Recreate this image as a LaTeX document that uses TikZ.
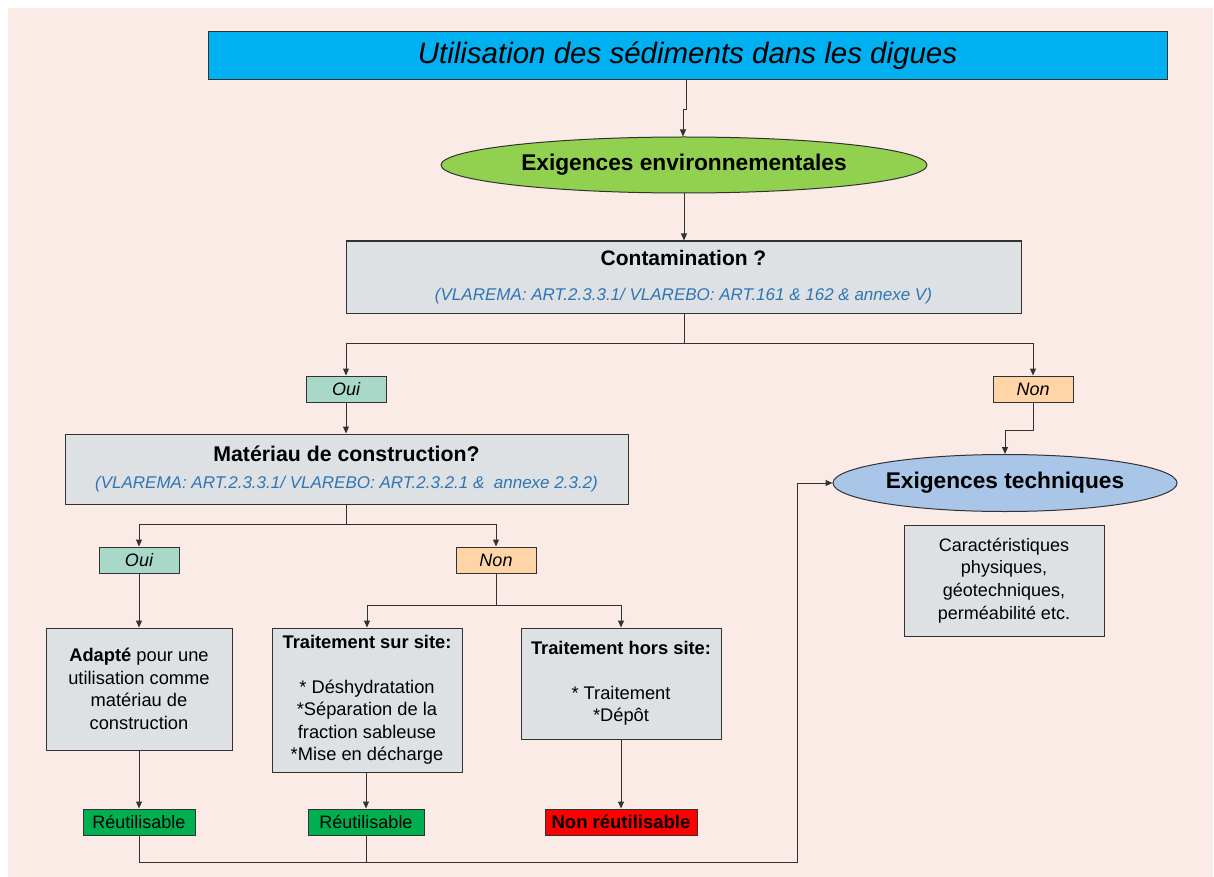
\documentclass[tikz,border=0pt]{standalone}
\usepackage{fontspec}
\setmainfont{Liberation Sans}
\usetikzlibrary{arrows.meta,shapes.geometric}
\definecolor{bgpink}{RGB}{251,235,231}
\definecolor{titleblue}{RGB}{0,176,240}
\definecolor{envgreen}{RGB}{146,208,80}
\definecolor{boxgray}{RGB}{222,225,227}
\definecolor{txtblue}{RGB}{46,117,182}
\definecolor{ouicol}{RGB}{168,216,200}
\definecolor{noncol}{RGB}{255,213,168}
\definecolor{reugreen}{RGB}{0,176,80}
\definecolor{techblue}{RGB}{169,198,232}
\definecolor{edge}{RGB}{50,50,50}
\tikzset{
  box/.style={draw=edge,line width=1pt,fill=boxgray,align=center,inner sep=0pt,font=\fontsize{18.3}{22.5}\selectfont},
  tag/.style={draw=edge,line width=1pt,minimum width=80pt,minimum height=26pt,inner sep=0pt,font=\fontsize{18}{22}\selectfont\itshape},
  res/.style={draw=edge,line width=1pt,minimum height=26pt,inner sep=0pt,font=\fontsize{18}{22}\selectfont},
  oval/.style={ellipse,draw=edge,line width=1pt,inner sep=0pt,font=\fontsize{22.7}{26}\selectfont\bfseries},
  conn/.style={draw=edge,line width=1pt,-{Triangle[length=7pt,width=6pt]}},
  plain/.style={draw=edge,line width=1pt},
}
\begin{document}
\begin{tikzpicture}[x=1pt,y=-1pt]
\useasboundingbox (0,0) rectangle (1214,877);
\fill[white] (0,0) rectangle (1214,877);
\fill[bgpink] (8,8) rectangle (1213,877);

\node[draw=edge,line width=1pt,fill=titleblue,minimum width=959pt,minimum height=48pt,inner sep=0pt,font=\fontsize{29.5}{34}\selectfont\itshape] (title) at (687.5,56) {Utilisation des sédiments dans les digues};

\node[oval,fill=envgreen,minimum width=486pt,minimum height=56pt] (env) at (684,165) {Exigences environnementales};

\node[box,minimum width=675pt,minimum height=72pt] (cont) at (683.5,277)
  {{\fontsize{21}{24}\selectfont\bfseries Contamination ?}\\[13pt]{\fontsize{17}{19}\selectfont\itshape\color{txtblue}(VLAREMA: ART.2.3.3.1/ VLAREBO: ART.161 \& 162 \& annexe V)}};

\node[tag,fill=ouicol] (oui1) at (346,389) {Oui};
\node[tag,fill=noncol] (non1) at (1033,389) {Non};

\node[box,minimum width=563pt,minimum height=70pt] (mat) at (346.5,469)
  {{\fontsize{21.3}{24}\selectfont\bfseries Matériau de construction?}\\[4pt]{\fontsize{17}{19}\selectfont\itshape\color{txtblue}(VLAREMA: ART.2.3.3.1/ VLAREBO: ART.2.3.2.1 \&\ \ annexe 2.3.2)}};

\node[tag,fill=ouicol] (oui2) at (139,560) {Oui};
\node[tag,fill=noncol] (non2) at (496,560) {Non};

\node[box,minimum width=186pt,minimum height=122pt] (adapt) at (139,689)
  {\textbf{Adapté} pour une\\utilisation comme\\matériau de\\construction};
\node[box,minimum width=190pt,minimum height=144pt] (sur) at (367,700)
  {\textbf{Traitement sur site:}\\[22.5pt]* Déshydratation\\*Séparation de la\\fraction sableuse\\*Mise en décharge};
\node[box,minimum width=200pt,minimum height=111pt] (hors) at (621,683.5)
  {\textbf{Traitement hors site:}\\[22.5pt]* Traitement\\*Dépôt};

\node[res,fill=reugreen,minimum width=112pt] (reu1) at (139,822) {Réutilisable};
\node[res,fill=reugreen,minimum width=116pt] (reu2) at (366,822) {Réutilisable};
\node[res,fill=red,minimum width=152pt,font=\fontsize{18.5}{22}\selectfont\bfseries] (nonreu) at (621,822) {Non réutilisable};

\node[oval,fill=techblue,minimum width=344pt,minimum height=57pt] (tech) at (1005,483) {Exigences techniques};
\node[box,minimum width=200pt,minimum height=111pt,font=\fontsize{18}{22.7}\selectfont] (car) at (1004,580.5)
  {Caractéristiques\\physiques,\\géotechniques,\\perméabilité etc.};

% connectors
\draw[conn] (title.south -| 686,0) -- (686,110) -- (683,110) -- (env.north -| 683,0);
\draw[conn] (env.south) -- (cont.north -| env.south);
\coordinate (c1) at (684,343);
\draw[conn] (cont.south -| c1) -- (c1) -| (oui1.north);
\draw[conn] (c1) -| (non1.north);
\draw[conn] (oui1.south) -- (mat.north -| oui1.south);
\coordinate (c2) at (346,524);
\draw[conn] (mat.south -| c2) -- (c2) -| (oui2.north);
\draw[conn] (c2) -| (non2.north);
\draw[conn] (oui2.south) -- (adapt.north -| oui2.south);
\coordinate (c3) at (496,605);
\draw[conn] (non2.south) -- (c3) -| (sur.north);
\draw[conn] (c3) -| (hors.north);
\draw[conn] (adapt.south) -- (reu1.north);
\draw[conn] (sur.south -| reu2.north) -- (reu2.north);
\draw[conn] (hors.south) -- (nonreu.north);
\coordinate (c4) at (797,862);
\draw[conn] (reu1.south) |- (c4) |- (tech.west);
\draw[plain] (reu2.south) -- (reu2.south |- c4);
\draw[conn] (non1.south) -- (1033,430) -| (1005,0 |- tech.north);
\end{tikzpicture}
\end{document}
